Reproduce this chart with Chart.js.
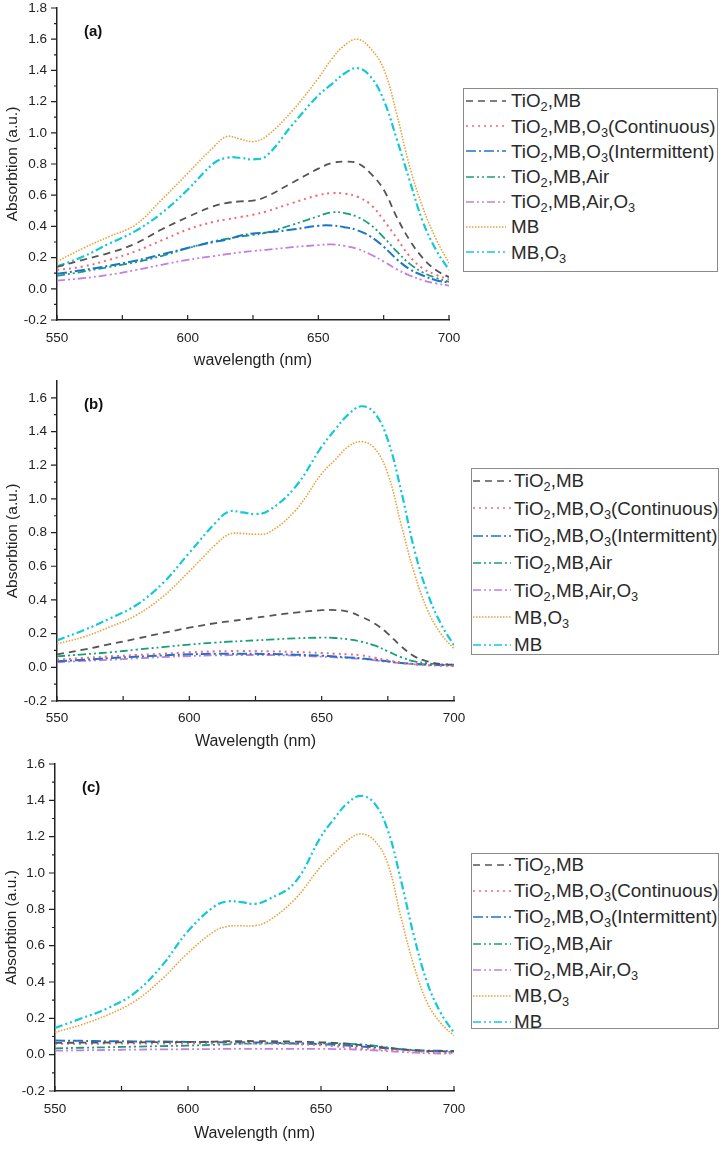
<!DOCTYPE html>
<html>
<head>
<meta charset="utf-8">
<script src="https://cdn.jsdelivr.net/npm/chart.js@4.4.1/dist/chart.umd.min.js"></script>
<style>
  body { margin: 0; background: #fff; width: 724px; height: 1149px; position: relative; overflow: hidden; font-family: "Liberation Sans", Arial, sans-serif; }
  canvas { position: absolute; left: 0; }
  .legend { position: absolute; border: 1px solid #8a8a8a; background: #fff; box-sizing: border-box; color: #2a2a2a; font-size: 18.8px; z-index: 2; }
  .legend .row { position: absolute; left: 0; right: 0; white-space: nowrap; }
  .legend svg { position: absolute; top: 50%; margin-top: -4px; }
  .legend span { position: absolute; top: 0; }
  sub { font-size: 0.68em; vertical-align: -0.34em; line-height: 0; }
</style>
</head>
<body>
<canvas id="chart_a" width="470" height="370" style="top:0px"></canvas>
<canvas id="chart_b" width="470" height="379" style="top:372px"></canvas>
<canvas id="chart_c" width="470" height="392" style="top:751px"></canvas>
<div class="legend" id="legend_a"></div>
<div class="legend" id="legend_b"></div>
<div class="legend" id="legend_c"></div>
<script>
// wavelength grid (nm)
const wavelength = [550, 560, 570, 580, 590, 600, 610, 615, 620, 625, 630, 640, 650, 655, 660, 665, 670, 675, 680, 685, 690, 695, 700];
const x_major = [550, 600, 650, 700];
const x_minor = [575, 625, 675];

const labels_a = ["TiO₂,MB", "TiO₂,MB,O₃(Continuous)", "TiO₂,MB,O₃(Intermittent)", "TiO₂,MB,Air", "TiO₂,MB,Air,O₃", "MB", "MB,O₃"];
const labels_bc = ["TiO₂,MB", "TiO₂,MB,O₃(Continuous)", "TiO₂,MB,O₃(Intermittent)", "TiO₂,MB,Air", "TiO₂,MB,Air,O₃", "MB,O₃", "MB"];

// panel (a)
const gray_a = [0.14, 0.186, 0.23, 0.29, 0.38, 0.46, 0.53, 0.55, 0.56, 0.565, 0.59, 0.68, 0.77, 0.805, 0.815, 0.805, 0.74, 0.635, 0.46, 0.31, 0.197, 0.12, 0.075];
const red_a = [0.12, 0.143, 0.186, 0.24, 0.31, 0.38, 0.43, 0.445, 0.46, 0.475, 0.495, 0.55, 0.60, 0.613, 0.61, 0.59, 0.54, 0.44, 0.325, 0.207, 0.13, 0.09, 0.06];
const blue_a = [0.096, 0.12, 0.148, 0.18, 0.22, 0.262, 0.30, 0.315, 0.34, 0.355, 0.36, 0.38, 0.404, 0.406, 0.395, 0.375, 0.335, 0.27, 0.19, 0.125, 0.085, 0.055, 0.04];
const green_a = [0.083, 0.11, 0.14, 0.17, 0.21, 0.26, 0.305, 0.32, 0.335, 0.345, 0.36, 0.41, 0.465, 0.49, 0.485, 0.46, 0.41, 0.33, 0.24, 0.16, 0.105, 0.07, 0.045];
const purple_a = [0.053, 0.068, 0.09, 0.12, 0.154, 0.186, 0.21, 0.222, 0.233, 0.242, 0.25, 0.267, 0.28, 0.285, 0.275, 0.255, 0.22, 0.175, 0.125, 0.085, 0.055, 0.035, 0.02];
const orange_a = [0.175, 0.26, 0.335, 0.41, 0.57, 0.74, 0.91, 0.976, 0.96, 0.944, 0.976, 1.14, 1.35, 1.47, 1.56, 1.60, 1.54, 1.41, 1.12, 0.78, 0.52, 0.32, 0.165];
const cyan_a = [0.143, 0.207, 0.29, 0.37, 0.485, 0.635, 0.805, 0.84, 0.84, 0.83, 0.85, 1.05, 1.24, 1.31, 1.38, 1.415, 1.36, 1.21, 0.96, 0.69, 0.43, 0.25, 0.12];

// panel (b)
const gray_b = [0.077, 0.105, 0.137, 0.17, 0.204, 0.235, 0.263, 0.273, 0.283, 0.294, 0.305, 0.325, 0.339, 0.34, 0.33, 0.30, 0.26, 0.20, 0.125, 0.065, 0.035, 0.02, 0.015];
const red_b = [0.045, 0.055, 0.065, 0.073, 0.081, 0.089, 0.095, 0.096, 0.097, 0.096, 0.095, 0.091, 0.085, 0.081, 0.077, 0.071, 0.057, 0.042, 0.028, 0.018, 0.012, 0.01, 0.008];
const blue_b = [0.036, 0.045, 0.055, 0.063, 0.071, 0.077, 0.081, 0.081, 0.081, 0.08, 0.079, 0.075, 0.069, 0.064, 0.059, 0.053, 0.045, 0.036, 0.026, 0.02, 0.016, 0.014, 0.012];
const green_b = [0.065, 0.077, 0.089, 0.105, 0.12, 0.135, 0.147, 0.152, 0.156, 0.16, 0.164, 0.172, 0.176, 0.174, 0.166, 0.152, 0.13, 0.095, 0.06, 0.035, 0.024, 0.018, 0.016];
const purple_b = [0.03, 0.038, 0.045, 0.053, 0.061, 0.067, 0.071, 0.072, 0.073, 0.073, 0.073, 0.069, 0.063, 0.059, 0.055, 0.05, 0.042, 0.032, 0.024, 0.018, 0.014, 0.012, 0.01];
const orange_b = [0.14, 0.18, 0.24, 0.31, 0.42, 0.57, 0.73, 0.79, 0.795, 0.79, 0.80, 0.93, 1.15, 1.23, 1.31, 1.34, 1.30, 1.15, 0.85, 0.56, 0.34, 0.20, 0.11];
const cyan_b = [0.16, 0.22, 0.29, 0.37, 0.50, 0.68, 0.86, 0.925, 0.92, 0.91, 0.93, 1.07, 1.31, 1.41, 1.50, 1.55, 1.51, 1.35, 1.05, 0.70, 0.44, 0.26, 0.13];

// panel (c)
const gray_c = [0.065, 0.066, 0.067, 0.068, 0.069, 0.07, 0.072, 0.074, 0.075, 0.075, 0.074, 0.072, 0.068, 0.065, 0.06, 0.053, 0.045, 0.037, 0.03, 0.025, 0.02, 0.019, 0.018];
const red_c = [0.06, 0.06, 0.061, 0.061, 0.062, 0.062, 0.062, 0.062, 0.062, 0.061, 0.06, 0.058, 0.052, 0.047, 0.04, 0.035, 0.03, 0.027, 0.025, 0.02, 0.015, 0.012, 0.01];
const blue_c = [0.078, 0.076, 0.074, 0.073, 0.072, 0.07, 0.069, 0.069, 0.068, 0.067, 0.066, 0.062, 0.058, 0.054, 0.05, 0.045, 0.04, 0.035, 0.03, 0.025, 0.022, 0.021, 0.02];
const green_c = [0.035, 0.038, 0.041, 0.044, 0.047, 0.05, 0.054, 0.057, 0.06, 0.061, 0.062, 0.062, 0.062, 0.061, 0.06, 0.057, 0.05, 0.04, 0.03, 0.024, 0.02, 0.017, 0.015];
const purple_c = [0.022, 0.024, 0.026, 0.028, 0.029, 0.03, 0.031, 0.032, 0.032, 0.032, 0.032, 0.032, 0.032, 0.031, 0.03, 0.027, 0.024, 0.02, 0.015, 0.011, 0.008, 0.006, 0.005];
const orange_c = [0.123, 0.165, 0.22, 0.294, 0.413, 0.56, 0.68, 0.706, 0.71, 0.71, 0.734, 0.853, 1.037, 1.11, 1.18, 1.215, 1.18, 1.055, 0.76, 0.486, 0.284, 0.174, 0.105];
const cyan_c = [0.147, 0.20, 0.257, 0.34, 0.486, 0.68, 0.817, 0.844, 0.84, 0.83, 0.853, 0.945, 1.20, 1.30, 1.385, 1.425, 1.385, 1.24, 0.963, 0.65, 0.394, 0.23, 0.12];

// line styles, same order in every panel
const series_colors = ["#555555", "#f06878", "#1e74c6", "#1a9e78", "#c27fe0", "#e6a23c", "#14c8d4"];
const series_dash = [[7, 5], [2, 4], [10, 3, 2, 3], [8, 3, 2, 3, 2, 3], [8, 3, 2, 3, 2, 3], [1.5, 1.5], [8, 3, 2, 3, 2, 3]];
const series_width = [1.8, 2, 2, 1.8, 1.8, 1.6, 2.2];

Chart.defaults.font.family = '"Liberation Sans", Arial, sans-serif';
Chart.defaults.color = "#222";

const axisDecor = {
  id: "axisDecor",
  afterDraw(chart, args, opts) {
    const ctx = chart.ctx;
    const area = chart.chartArea;
    const sx = chart.scales.x;
    const sy = chart.scales.y;
    ctx.save();
    ctx.strokeStyle = "#222";
    ctx.lineWidth = 1.2;
    ctx.beginPath();
    x_major.concat(x_minor).forEach(function(v) {
      const px = sx.getPixelForValue(v);
      ctx.moveTo(px, area.bottom);
      ctx.lineTo(px, area.bottom - 5);
    });
    opts.yMajor.forEach(function(v) {
      const py = sy.getPixelForValue(v);
      ctx.moveTo(area.left, py);
      ctx.lineTo(area.left - 6, py);
    });
    opts.yMinor.forEach(function(v) {
      const py = sy.getPixelForValue(v);
      ctx.moveTo(area.left, py);
      ctx.lineTo(area.left - 3, py);
    });
    ctx.stroke();
    ctx.fillStyle = "#111";
    ctx.font = 'bold 15px "Liberation Sans", Arial';
    ctx.textBaseline = "middle";
    ctx.fillText(opts.tag, area.left + 27, area.top + 24);
    ctx.restore();
  }
};

function subs(text) {
  return text.replace(/₂/g, "<sub>2</sub>").replace(/₃/g, "<sub>3</sub>");
}

function buildLegend(chart, box) {
  const el = document.getElementById(box.id);
  el.style.left = box.left + "px";
  el.style.top = box.top + "px";
  el.style.width = box.width + "px";
  el.style.height = box.height + "px";
  chart.data.datasets.forEach(function(ds, i) {
    const row = document.createElement("div");
    row.className = "row";
    row.style.top = (box.offset + i * box.rowH) + "px";
    row.style.height = box.rowH + "px";
    row.style.lineHeight = box.rowH + "px";
    row.innerHTML = '<svg width="' + box.lineW + '" height="8" style="left:' + box.lineX + 'px">' +
      '<line x1="0" y1="4" x2="' + box.lineW + '" y2="4" stroke="' + ds.borderColor + '" stroke-width="1.3" stroke-dasharray="' + ds.borderDash.join(" ") + '"/></svg>' +
      '<span style="left:' + box.textX + 'px">' + subs(ds.label) + '</span>';
    el.appendChild(row);
  });
}

function makePanel(p) {
  const datasets = p.series.map(function(vals, i) {
    return {
      label: p.labels[i],
      data: wavelength.map(function(w, j) { return {x: w, y: vals[j]}; }),
      borderColor: series_colors[i],
      borderDash: series_dash[i],
      borderWidth: series_width[i],
      pointRadius: 0,
      fill: false,
      tension: 0.4
    };
  });
  const chart = new Chart(p.canvas, {
    type: "line",
    data: {datasets: datasets},
    options: {
      responsive: false,
      animation: false,
      layout: {padding: p.pad},
      plugins: {
        legend: {display: false},
        tooltip: {enabled: false},
        axisDecor: {yMajor: p.yMajor, yMinor: p.yMinor, tag: p.tag}
      },
      scales: {
        x: {
          type: "linear",
          min: 550,
          max: 700,
          grid: {display: false, drawTicks: false},
          border: {display: true, color: "#222", width: 1.5},
          afterBuildTicks: function(scale) { scale.ticks = x_major.map(function(v) { return {value: v}; }); },
          afterFit: function(scale) {
            scale.height = p.xHeight;
            scale.paddingLeft = 0;
            scale.paddingRight = 0;
          },
          ticks: {padding: p.xPad, font: {size: 13.5}, color: "#222", maxRotation: 0, callback: function(v) { return String(v); }},
          title: {display: true, text: p.xTitle, font: {size: 16}, color: "#222", padding: 0}
        },
        y: {
          min: -0.2,
          max: p.yMax,
          grid: {display: false, drawTicks: false},
          border: {display: true, color: "#222", width: 1.5},
          afterBuildTicks: function(scale) { scale.ticks = p.yMajor.map(function(v) { return {value: v}; }); },
          afterFit: function(scale) {
            scale.width = p.yWidth;
            scale.paddingTop = 0;
            scale.paddingBottom = 0;
          },
          ticks: {padding: 10, font: {size: 13.5}, color: "#222", callback: function(v) { return Number(v).toFixed(1); }},
          title: {display: true, text: "Absorbtion (a.u.)", font: {size: 15.5}, color: "#222", padding: 0}
        }
      }
    },
    plugins: [axisDecor]
  });
  buildLegend(chart, p.legend);
  return chart;
}

const y_major_18 = [-0.2, 0, 0.2, 0.4, 0.6, 0.8, 1.0, 1.2, 1.4, 1.6, 1.8];
const y_minor_18 = [-0.1, 0.1, 0.3, 0.5, 0.7, 0.9, 1.1, 1.3, 1.5, 1.7];
const y_major_16 = [-0.2, 0, 0.2, 0.4, 0.6, 0.8, 1.0, 1.2, 1.4, 1.6];
const y_minor_16 = [-0.1, 0.1, 0.3, 0.5, 0.7, 0.9, 1.1, 1.3, 1.5];

makePanel({
  canvas: "chart_a", tag: "(a)", xTitle: "wavelength (nm)",
  series: [gray_a, red_a, blue_a, green_a, purple_a, orange_a, cyan_a], labels: labels_a,
  yMax: 1.8, yMajor: y_major_18, yMinor: y_minor_18,
  pad: {top: 8, left: 3, right: 21, bottom: 0}, yWidth: 54, xHeight: 50, xPad: 10,
  legend: {id: "legend_a", left: 463, top: 88, width: 255, height: 184, offset: -0.6, rowH: 25.2, lineX: 2, lineW: 40, textX: 47}
});

makePanel({
  canvas: "chart_b", tag: "(b)", xTitle: "Wavelength (nm)",
  series: [gray_b, red_b, blue_b, green_b, purple_b, orange_b, cyan_b], labels: labels_bc,
  yMax: 1.7, yMajor: y_major_16, yMinor: y_minor_16,
  pad: {top: 9, left: 3, right: 16, bottom: 0}, yWidth: 54, xHeight: 50, xPad: 9,
  legend: {id: "legend_b", left: 471, top: 468, width: 248, height: 187, offset: -1.7, rowH: 27.3, lineX: 1, lineW: 38, textX: 42}
});

makePanel({
  canvas: "chart_c", tag: "(c)", xTitle: "Wavelength (nm)",
  series: [gray_c, red_c, blue_c, green_c, purple_c, orange_c, cyan_c], labels: labels_bc,
  yMax: 1.6, yMajor: y_major_16, yMinor: y_minor_16,
  pad: {top: 13, left: 2, right: 16, bottom: 0}, yWidth: 53, xHeight: 52, xPad: 10,
  legend: {id: "legend_c", left: 471, top: 853, width: 248, height: 176, offset: -2, rowH: 26.2, lineX: 1, lineW: 38, textX: 42}
});
</script>
</body>
</html>
